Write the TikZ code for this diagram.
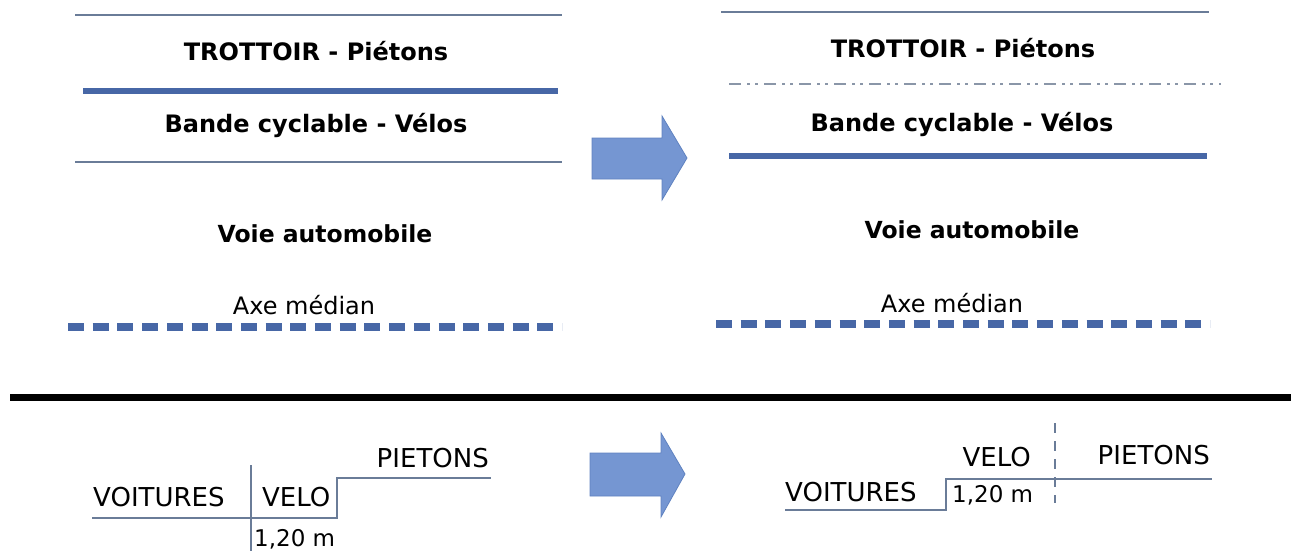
\documentclass[tikz,border=0pt]{standalone}
\usepackage{fontspec}
\setmainfont{DejaVu Sans}
\definecolor{thinc}{HTML}{6A7C98}
\definecolor{thickc}{HTML}{4767A6}
\definecolor{arrowf}{HTML}{7596D2}
\definecolor{arrowd}{HTML}{5F82C0}
\definecolor{dashc}{HTML}{8A96A8}
\tikzset{
  thinline/.style={draw=thinc, line width=1.4pt},
  thickline/.style={draw=thickc, line width=6pt},
  medianline/.style={draw=thickc, line width=8pt, dash pattern=on 16pt off 8.7pt},
  dashdotline/.style={draw=dashc, line width=1.3pt, dash pattern=on 12pt off 6pt on 3pt off 5pt on 3pt off 6pt},
  vdashline/.style={draw=thinc, line width=1.2pt, dash pattern=on 10pt off 8pt},
  sepline/.style={draw=black, line width=7pt},
  boldlbl/.style={font=\bfseries\fontsize{24}{26}\selectfont, inner sep=0pt},
  voielbl/.style={font=\bfseries\fontsize{23.5}{25}\selectfont, inner sep=0pt},
  reglbl/.style={font=\fontsize{24}{26}\selectfont, inner sep=0pt},
  smalllbl/.style={font=\fontsize{26}{28}\selectfont, inner sep=0pt},
  numlbl/.style={font=\fontsize{23}{25}\selectfont, inner sep=0pt},
  bigarrow/.style={fill=arrowf, draw=arrowd, line width=0.8pt, line join=miter}
}
\begin{document}
\begin{tikzpicture}[x=1pt,y=-1pt]
\useasboundingbox (0,0) rectangle (1291,550);
% ---------- top left ----------
\coordinate (l1a) at (75,15);  \coordinate (l1b) at (562,15);
\coordinate (l2a) at (83,91);  \coordinate (l2b) at (558,91);
\coordinate (l3a) at (75,162); \coordinate (l3b) at (562,162);
\coordinate (l4a) at (68,327); \coordinate (l4b) at (562,327);
\draw[thinline] (l1a) -- (l1b);
\draw[thickline] (l2a) -- (l2b);
\draw[thinline] (l3a) -- (l3b);
\draw[medianline] (l4a) -- (l4b);
\node[boldlbl] (tl1) at (316,51) {TROTTOIR - Piétons};
\node[boldlbl] (tl2) at (316,125) {Bande cyclable - Vélos};
\node[voielbl] (tl3) at (325,234) {Voie automobile};
\node[reglbl] (tl4) at (304,305) {Axe médian};
% ---------- top right ----------
\coordinate (r1a) at (721,12);  \coordinate (r1b) at (1209,12);
\coordinate (r2a) at (729,84);  \coordinate (r2b) at (1221,84);
\coordinate (r3a) at (729,156); \coordinate (r3b) at (1207,156);
\coordinate (r4a) at (716,324); \coordinate (r4b) at (1210,324);
\draw[thinline] (r1a) -- (r1b);
\draw[dashdotline] (r2a) -- (r2b);
\draw[thickline] (r3a) -- (r3b);
\draw[medianline] (r4a) -- (r4b);
\node[boldlbl] (tr1) at (963,48) {TROTTOIR - Piétons};
\node[boldlbl] (tr2) at (962,124) {Bande cyclable - Vélos};
\node[voielbl] (tr3) at (972,230) {Voie automobile};
\node[reglbl] (tr4) at (952,303) {Axe médian};
% ---------- arrows ----------
\draw[bigarrow] (592,138) coordinate (a1) -- (662,138) -- (662,116) -- (687,158) -- (662,200) -- (662,179) -- (592,179) -- cycle;
\draw[bigarrow] (590,453) coordinate (a2) -- (661,453) -- (661,433) -- (685,474) -- (661,517) -- (661,496) -- (590,496) -- cycle;
% ---------- separator ----------
\coordinate (s1) at (10,397); \coordinate (s2) at (1291,397);
\draw[sepline] (s1) -- (s2);
% ---------- bottom left ----------
\coordinate (bl1) at (92,518);
\coordinate (bl2) at (337,518);
\coordinate (bl3) at (337,478);
\coordinate (bl4) at (491,478);
\coordinate (bv1) at (251,465);
\coordinate (bv2) at (251,551);
\draw[thinline, line width=1.2pt] (bl1) -- (bl2) -- (bl3) -- (bl4);
\draw[thinline, line width=1.2pt] (bv1) -- (bv2);
\node[smalllbl, anchor=west] (b1) at (93,497) {VOITURES};
\node[smalllbl, anchor=west] (b2) at (262,497) {VELO};
\node[smalllbl, anchor=east] (b3) at (489,458) {PIETONS};
\node[numlbl, anchor=west] (b4) at (254,539) {1,20 m};
% ---------- bottom right ----------
\coordinate (br1) at (785,510);
\coordinate (br2) at (946,510);
\coordinate (br3) at (946,479);
\coordinate (br4) at (1212,479);
\coordinate (bw1) at (1055,423);
\coordinate (bw2) at (1055,503);
\draw[thinline, line width=1.2pt] (br1) -- (br2) -- (br3) -- (br4);
\draw[vdashline] (bw1) -- (bw2);
\node[smalllbl, anchor=west] (c1) at (785,492) {VOITURES};
\node[smalllbl, anchor=east] (c2) at (1031,457) {VELO};
\node[smalllbl, anchor=east] (c3) at (1210,455) {PIETONS};
\node[numlbl, anchor=west] (c4) at (952,495) {1,20 m};
\end{tikzpicture}
\end{document}
